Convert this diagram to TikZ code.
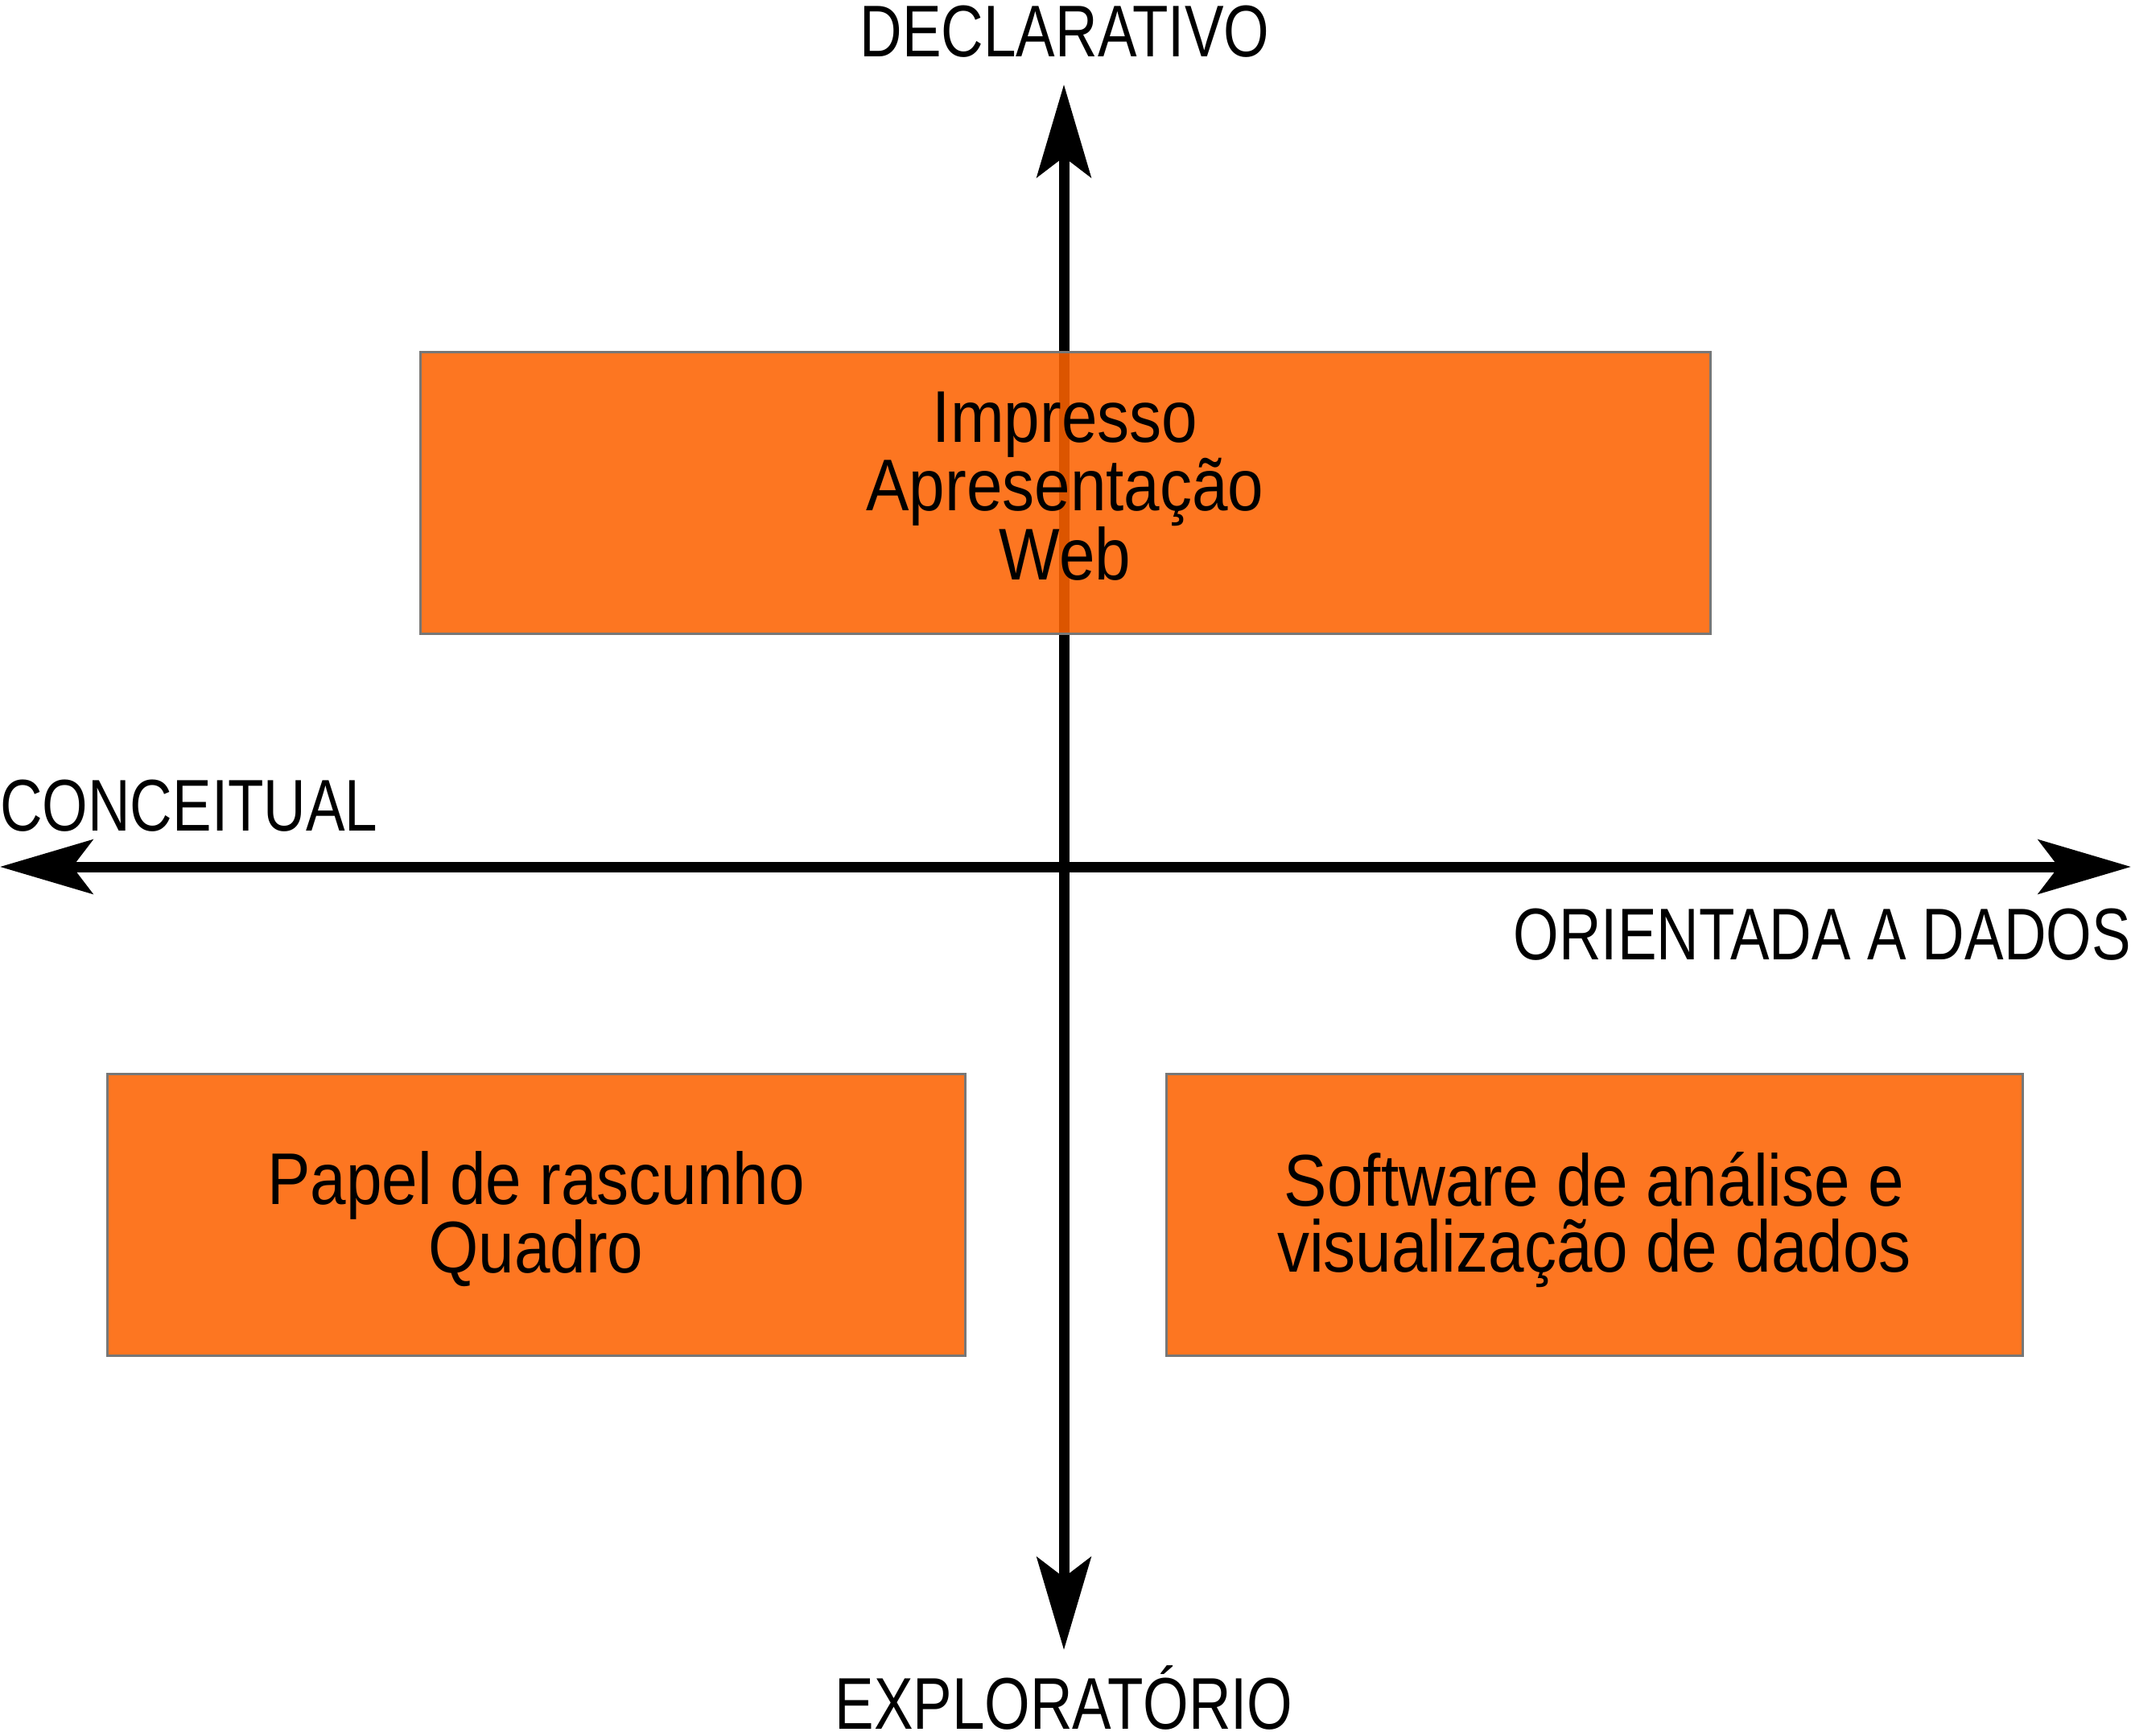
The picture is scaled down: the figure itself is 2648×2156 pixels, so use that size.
\documentclass[tikz,border=0pt]{standalone}
\usepackage{fontspec}
\setmainfont{Liberation Sans}[FakeStretch=0.8]
\newfontfamily\boxfont{Liberation Sans}[FakeStretch=0.88]
\usetikzlibrary{arrows.meta}
\definecolor{boxorange}{RGB}{253,98,0}
\definecolor{boxedge}{RGB}{119,119,119}
\tikzset{
  axis/.style={line width=13pt, draw=black,
    {Stealth[length=115pt,width=67pt,inset=25pt]}-{Stealth[length=115pt,width=67pt,inset=25pt]}},
  quadbox/.style={draw=boxedge, line width=3pt, fill=boxorange, fill opacity=0.87,
    text opacity=1, align=center, inner sep=0pt,
    font=\boxfont\fontsize{91}{82}\selectfont},
  axislabel/.style={inner sep=0pt, font=\fontsize{91}{82}\selectfont}
}
\begin{document}
\begin{tikzpicture}[x=1pt,y=-1pt]
\useasboundingbox (0,0) rectangle (2648,2156);
% axes
\coordinate (vtop) at (1322,105);
\coordinate (vbot) at (1322,2050);
\coordinate (hleft) at (0,1077);
\coordinate (hright) at (2648,1077);
\draw[axis] (hleft) -- (hright);
\draw[axis] (vbot) -- (vtop);
% boxes
\node[quadbox, minimum width=1603pt, minimum height=350pt, text depth=17pt] (top) at (1323.5,612) {Impresso\\Apresentação\\Web};
\node[quadbox, minimum width=1066pt, minimum height=350pt, text depth=6pt] (bl) at (666,1509) {Papel de rascunho\\Quadro};
\node[quadbox, minimum width=1064pt, minimum height=350pt, text depth=6pt] (br) at (1981,1509) {Software de análise e\\visualização de dados};
% labels
\node[axislabel, anchor=base] (decl) at (1323,70) {DECLARATIVO};
\node[axislabel, anchor=base west] (conc) at (0,1032) {CONCEITUAL};
\node[axislabel, anchor=base east] (orient) at (2648,1192) {ORIENTADA A DADOS};
\node[axislabel, anchor=base] (expl) at (1322,2148) {EXPLORATÓRIO};
\end{tikzpicture}
\end{document}
